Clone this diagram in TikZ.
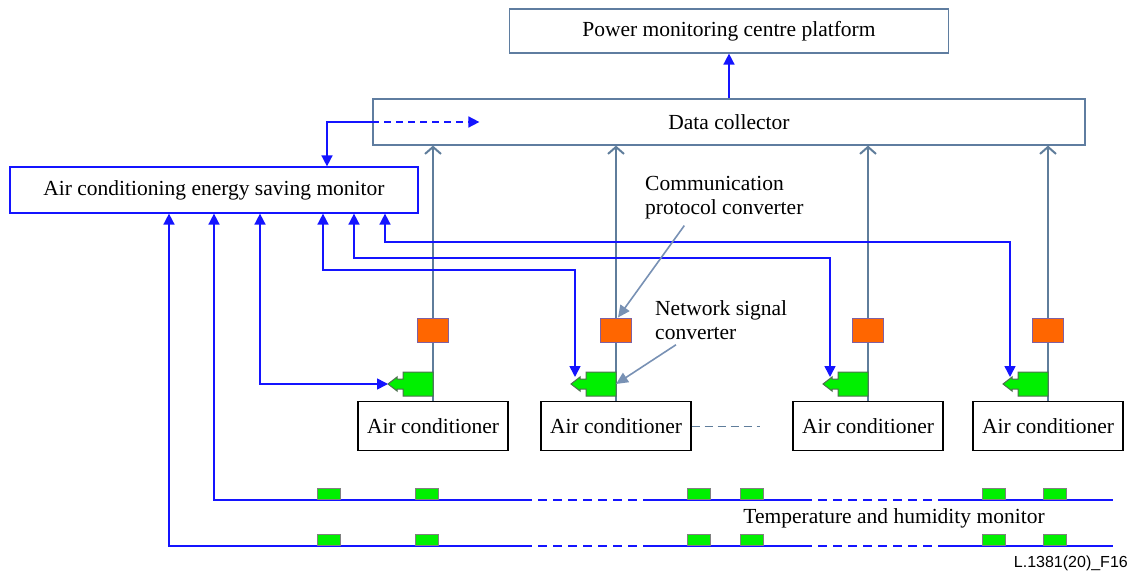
\documentclass[tikz,border=0pt]{standalone}
\usepackage{fontspec}
\setmainfont{Liberation Serif}
\setsansfont{Liberation Sans}
\usepackage{tikz}
\usetikzlibrary{arrows.meta, calc}
\definecolor{frame}{RGB}{95,125,160}
\definecolor{bline}{RGB}{20,20,255}
\definecolor{uline}{RGB}{95,125,155}
\definecolor{nline}{RGB}{120,145,180}
\definecolor{orange1}{RGB}{255,102,0}
\definecolor{conv}{RGB}{128,96,160}
\definecolor{green1}{RGB}{0,240,0}
\definecolor{gedge}{RGB}{80,110,80}
\newcommand{\diafont}{\fontsize{21.5}{24}\selectfont}

\begin{document}
\begin{tikzpicture}[x=1pt,y=-1pt,>={Triangle[length=11pt,width=11pt]},
	box node/.style={draw=frame,line width=1.2pt,inner sep=0pt,font=\diafont},
	ac node/.style={draw,line width=1.1pt,minimum width=150pt,minimum height=49pt,inner sep=0pt,font=\diafont},
	pc node/.style={draw=conv,fill=orange1,line width=1pt,minimum width=31pt,minimum height=24pt,inner sep=0pt},
	sensor node/.style={draw=gray,fill=green1,line width=1pt,minimum width=23pt,minimum height=11pt,inner sep=0pt,anchor=south},
	nsc shape/.style={draw=gedge,fill=green1,line width=1pt,line join=miter},
	bus/.style={draw=bline,line width=1.6pt},
	uplink/.style={draw=uline,line width=1.6pt,-{Straight Barb[length=7pt,width=16pt,line width=2pt]}},
	note/.style={draw=nline,line width=1.6pt,-{Triangle[length=12pt,width=11pt]}},
	text node/.style={align=left,inner sep=0pt,font=\diafont}]
	\useasboundingbox (0,0) rectangle (1130,578);

	\node[box node,minimum width=439pt,minimum height=44pt] (platform) at (729,31) {Power monitoring centre platform};
	\node[box node,minimum width=712pt,minimum height=46pt] (collector) at (729,122) {Data collector};
	\node[box node,draw=bline,minimum width=408pt,minimum height=46pt] (monitor) at (214,190) {Air conditioning energy saving monitor};

	\foreach \i/\x in {1/433,2/616,3/868,4/1048}
		\node[ac node] (ac\i) at (\x,426) {Air conditioner};
	\foreach \i in {1,...,4}
		\draw[uplink] (ac\i) -- (ac\i |- collector.south);
	\foreach \i/\x in {1/433,2/616,3/868,4/1048} {
		\node[pc node] (pc\i) at (\x,330) {};
		\draw[nsc shape] (\x,372) -- ++(-30,0) -- ++(0,7) -- ++(-6,0) -- ++(0,-2) -- ++(-9,7)
			-- ++(9,7) -- ++(0,-2) -- ++(6,0) -- ++(0,7) -- ++(30,0) -- cycle;
		\coordinate (tip\i) at ({\x-45},384);
		\coordinate (nsc\i) at (\x,384);
	}

	\draw[bus,->] (collector) -- (platform);
	\draw[bus,->] (collector.west) -| ([xshift=113pt]monitor.north);
	\draw[bus,->,dash pattern=on 7pt off 5pt] (collector.west) -- ++(107,0);

	\draw[bus,<->] ([xshift=46pt]monitor.south) |- (tip1);
	\foreach \i/\dx/\h/\o in {2/109/270/4,3/140/258/7,4/171/242/7}
		\draw[bus,<->] ([xshift=\dx pt]monitor.south) |- ($(tip\i)+(\o,\h-384)$) -- ($(tip\i)+(\o,-7)$);

	% temperature and humidity lines
	\foreach \dx/\y in {0/500,-45/546} {
		\draw[bus,<-] ([xshift=\dx pt]monitor.south) |- (523,\y);
		\draw[bus,dash pattern=on 9pt off 6pt] (523,\y) -- (646,\y);
		\draw[bus] (646,\y) -- (803,\y);
		\draw[bus,dash pattern=on 9pt off 6pt] (803,\y) -- (941,\y);
		\draw[bus] (941,\y) -- (1113,\y);
		\foreach \x [count=\k] in {328.5,426.5,698.5,751.5,993.5,1054.5}
			\node[sensor node] (t\y-\k) at (\x,\y) {};
	}

	\draw[uline,line width=1pt,dash pattern=on 8pt off 5pt] (ac2.east) -- ++(68,0);

	\node[text node,anchor=west] (cpc) at (645,198) {Communication\\protocol converter};
	\draw[note] ($(cpc.south)+(-40,6)$) -- ([xshift=2pt]pc2.north);
	\node[text node,anchor=west] (nsctext) at (655,320) {Network signal\\converter};
	\draw[note] ($(nsctext.south west)+(21,5)$) -- (nsc2);

	\node[text node] (thm) at (894,518) {Temperature and humidity monitor};
	\node[font=\sffamily\fontsize{16}{18}\selectfont,anchor=east,inner sep=0pt] (fig) at (1128,563) {L.1381(20)\_F16};
\end{tikzpicture}
\end{document}
